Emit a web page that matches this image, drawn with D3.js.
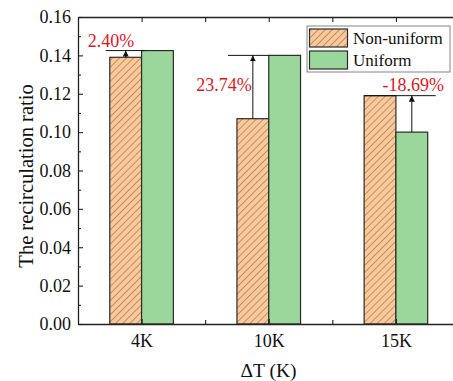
<!DOCTYPE html>
<html lang="en">
<head>
    <meta charset="UTF-8">
    <script src="https://cdn.jsdelivr.net/npm/d3@7"></script>
    <title>Recirculation ratio</title>
    <style>
        body { margin: 0; background: white; }
        svg { display: block; }
    </style>
</head>
<body>
<script>
    /*---------------- data ----------------*/
    const categories = ["4K", "10K", "15K"];
    const nonUniform = [0.139, 0.107, 0.119];
    const uniform = [0.1425, 0.140, 0.100];
    const diffLabels = ["2.40%", "23.74%", "-18.69%"];
    const yTicks = [0, 0.02, 0.04, 0.06, 0.08, 0.10, 0.12, 0.14, 0.16];
    const yMinor = [0.01, 0.03, 0.05, 0.07, 0.09, 0.11, 0.13, 0.15];

    /*---------------- window / scales ----------------*/
    const W = 453, H = 381;
    const plot = { left: 78, right: 459.5, top: 17, bottom: 324 };
    const serif = "'Liberation Serif'";

    const x = d3.scaleLinear().domain([0.5, 3.5]).range([plot.left, plot.right]);
    const y = d3.scaleLinear().domain([0, 0.16]).range([plot.bottom, plot.top]);
    const barW = x(0.25) - x(0);

    const orange = "#f9c99b";
    const green = "#9bd69b";
    const edge = "#2b2b2b";

    const svg = d3.select("body").append("svg")
        .attr("width", W)
        .attr("height", H);

    // hatch for non-uniform bars
    const defs = svg.append("defs");
    const pat = defs.append("pattern")
        .attr("id", "hatch")
        .attr("patternUnits", "userSpaceOnUse")
        .attr("width", 5)
        .attr("height", 5)
        .attr("patternTransform", "rotate(45)");
    pat.append("rect").attr("width", 5).attr("height", 5).attr("fill", orange);
    pat.append("line")
        .attr("x1", 0).attr("y1", 0).attr("x2", 0).attr("y2", 5)
        .attr("stroke", "#9a6a3c").attr("stroke-width", 1.2);

    defs.append("marker")
        .attr("id", "arrow")
        .attr("viewBox", "0 0 10 10")
        .attr("refX", 10).attr("refY", 5)
        .attr("markerWidth", 6).attr("markerHeight", 6)
        .attr("markerUnits", "userSpaceOnUse")
        .attr("orient", "auto")
        .append("path")
        .attr("d", "M0,0 L10,5 L0,10 z")
        .attr("fill", "#111");

    /*---------------- bars ----------------*/
    const idx = categories.map((d, i) => i + 1);

    svg.selectAll("rect.nonuni")
        .data(nonUniform)
        .enter().append("rect")
        .attr("class", "nonuni")
        .attr("x", (d, i) => x(idx[i]) - barW)
        .attr("y", d => y(d))
        .attr("width", barW)
        .attr("height", d => y(0) - y(d))
        .attr("fill", "url(#hatch)")
        .attr("stroke", edge)
        .attr("stroke-width", 1.2);

    svg.selectAll("rect.uni")
        .data(uniform)
        .enter().append("rect")
        .attr("class", "uni")
        .attr("x", (d, i) => x(idx[i]))
        .attr("y", d => y(d))
        .attr("width", barW)
        .attr("height", d => y(0) - y(d))
        .attr("fill", green)
        .attr("stroke", edge)
        .attr("stroke-width", 1.2);

    /*---------------- axes ----------------*/
    function styleAxis(g) {
        g.select(".domain").attr("stroke", "#222").attr("stroke-width", 1.3);
        g.selectAll(".tick line").attr("stroke", "#222").attr("stroke-width", 1.1);
        g.selectAll("text")
            .style("font-family", serif)
            .style("font-size", "18px")
            .attr("fill", "#111");
    }

    svg.append("g").attr("transform", `translate(${plot.left},0)`)
        .call(d3.axisLeft(y).tickValues(yTicks).tickFormat(d3.format(".2f"))
            .tickSizeInner(-5).tickSizeOuter(0).tickPadding(7))
        .call(styleAxis);
    svg.append("g").attr("transform", `translate(${plot.left},0)`)
        .call(d3.axisLeft(y).tickValues(yMinor).tickFormat("")
            .tickSizeInner(-3).tickSizeOuter(0))
        .call(styleAxis)
        .select(".domain").remove();

    svg.append("g").attr("transform", `translate(0,${plot.bottom})`)
        .call(d3.axisBottom(x).tickValues(idx).tickFormat((d, i) => categories[i])
            .tickSizeInner(-5).tickSizeOuter(0).tickPadding(10))
        .call(styleAxis);
    svg.append("g").attr("transform", `translate(0,${plot.bottom})`)
        .call(d3.axisBottom(x).tickValues([1.5, 2.5, 3.5]).tickFormat("")
            .tickSizeInner(-4).tickSizeOuter(0))
        .call(styleAxis)
        .select(".domain").remove();

    svg.append("g").attr("transform", `translate(0,${plot.top})`)
        .call(d3.axisTop(x).tickValues([1, 1.5, 2, 2.5, 3, 3.5]).tickFormat("")
            .tickSizeInner(-5).tickSizeOuter(0))
        .call(styleAxis);

    /*---------------- annotations ----------------*/
    const ann = svg.append("g");
    categories.forEach((c, i) => {
        const lo = Math.min(nonUniform[i], uniform[i]);
        const hi = Math.max(nonUniform[i], uniform[i]);
        const upper = nonUniform[i] > uniform[i] ? "non" : "uni";
        const cx = x(idx[i]);
        // arrow sits on the lower bar's centre
        const ax = upper === "uni" ? cx - barW / 2 : cx + barW / 2;
        let x1, x2;
        if (i === 0) { x1 = cx - barW - 4; x2 = cx + 3; }
        else if (upper === "uni") { x1 = cx - barW - 9; x2 = cx; }
        else { x1 = cx - barW; x2 = cx + barW + 8; }

        ann.append("line")
            .attr("x1", x1).attr("x2", x2)
            .attr("y1", y(hi)).attr("y2", y(hi))
            .attr("stroke", "#111").attr("stroke-width", 1);
        ann.append("line")
            .attr("x1", ax).attr("x2", ax)
            .attr("y1", y(lo)).attr("y2", y(hi))
            .attr("stroke", "#111").attr("stroke-width", 1)
            .attr("marker-end", "url(#arrow)");
    });

    // red percentage labels
    const labelPos = [
        { x: x(1) - barW - 22, y: y(uniform[0]) - 4, anchor: "start" },
        { x: x(2) - barW / 2 - 1, y: y(0.1215), anchor: "end" },
        { x: x(3) + 48, y: y(nonUniform[2]) - 5, anchor: "end" }
    ];
    ann.selectAll("text.diff")
        .data(diffLabels)
        .enter().append("text")
        .attr("class", "diff")
        .attr("x", (d, i) => labelPos[i].x)
        .attr("y", (d, i) => labelPos[i].y)
        .attr("text-anchor", (d, i) => labelPos[i].anchor)
        .style("font-family", serif)
        .style("font-size", "18px")
        .attr("fill", "#e8141c")
        .text(d => d);

    /*---------------- legend ----------------*/
    const legend = svg.append("g").attr("transform", "translate(307,26)");
    legend.append("rect")
        .attr("width", 143).attr("height", 46)
        .attr("fill", "white").attr("stroke", "#666").attr("stroke-width", 0.8);
    const legItems = [
        { name: "Non-uniform", fill: "url(#hatch)" },
        { name: "Uniform", fill: green }
    ];
    legItems.forEach((d, i) => {
        legend.append("rect")
            .attr("x", 2.5).attr("y", 3 + i * 22)
            .attr("width", 38).attr("height", 18)
            .attr("fill", d.fill).attr("stroke", edge).attr("stroke-width", 1.2);
        legend.append("text")
            .attr("x", 46).attr("y", 18 + i * 22)
            .style("font-family", serif)
            .style("font-size", "17px")
            .attr("fill", "#111")
            .text(d.name);
    });

    /*---------------- axis titles ----------------*/
    svg.append("text")
        .attr("x", (plot.left + W) / 2 + 3)
        .attr("y", 377)
        .attr("text-anchor", "middle")
        .style("font-family", serif)
        .style("font-size", "19.5px")
        .attr("fill", "#111")
        .text("ΔT (K)");

    svg.append("text")
        .attr("transform", "translate(33,176) rotate(-90)")
        .attr("text-anchor", "middle")
        .style("font-family", serif)
        .style("font-size", "20.5px")
        .attr("fill", "#111")
        .text("The recirculation ratio");
</script>
</body>
</html>
